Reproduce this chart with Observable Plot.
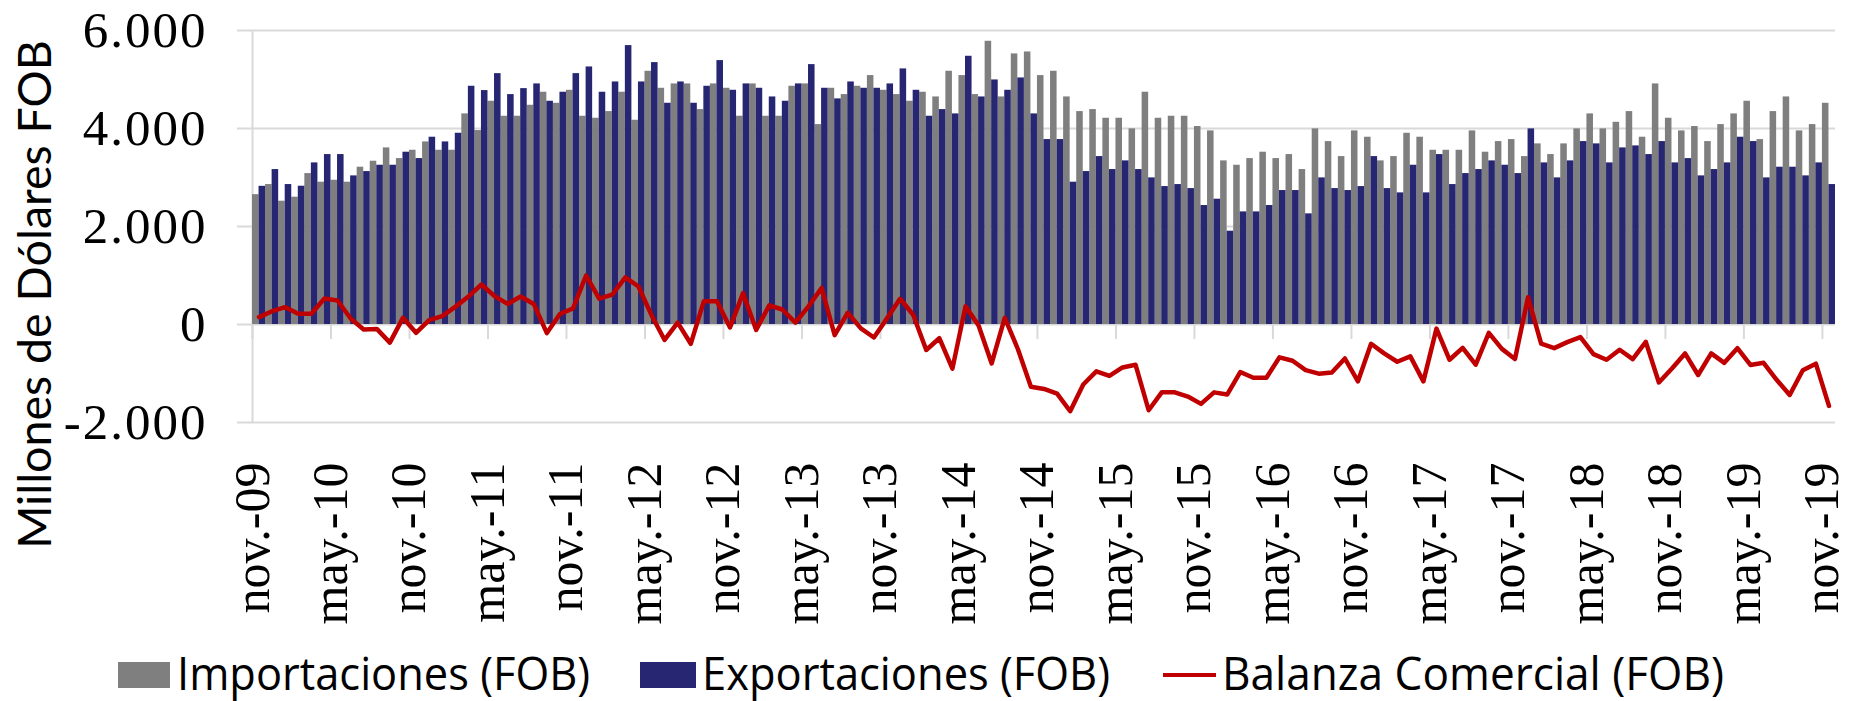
<!DOCTYPE html>
<html><head><meta charset="utf-8">
<script src="https://cdn.jsdelivr.net/npm/d3@7"></script>
<script src="https://cdn.jsdelivr.net/npm/@observablehq/plot@0.6"></script>
<style>
html,body{margin:0;padding:0;background:#fff;width:1851px;height:701px;overflow:hidden}
#chart{position:relative;width:1851px;height:701px}
#chart svg{display:block;overflow:visible}
#chart g[aria-label="y-axis tick label"] text{letter-spacing:2px}
</style></head><body><div id="chart"></div>
<script>
const tickLabels = ["nov.-09","may.-10","nov.-10","may.-11","nov.-11","may.-12","nov.-12","may.-13","nov.-13","may.-14","nov.-14","may.-15","nov.-15","may.-16","nov.-16","may.-17","nov.-17","may.-18","nov.-18","may.-19","nov.-19"];
const yTicks = [-2000, 0, 2000, 4000, 6000];

// Monthly values nov-09 .. nov-19 (millones USD FOB)
const importaciones = [
2650,2856,2516,2598,3080,2904,2944,2904,3210,3332,3604,3386,3556,3726,3556,3556,4298,3958,4556,4250,
4250,4474,4740,4515,4780,4250,4209,4345,4740,4168,5168,4821,4910,4910,4386,4910,4821,4250,4910,4250,
4250,4862,4910,4080,4821,4692,4862,5080,4780,4692,4556,4740,4644,5168,5080,4692,5780,4644,5522,5562,
5080,5168,4644,4345,4386,4209,4209,3992,4740,4209,4250,4250,4040,3951,3339,3250,3386,3516,3386,3468,
3162,3992,3733,3427,3951,3822,3339,3427,3903,3822,3556,3556,3556,3951,3516,3733,3774,3427,3686,3468,
3686,3992,4298,3992,4127,4345,3822,4910,4209,3951,4040,3733,4080,4298,4556,3774,4345,4644,3951,4080,
4515];
const exportaciones = [
2820,3162,2856,2822,3298,3468,3468,3033,3121,3250,3250,3516,3386,3822,3726,3903,4862,4774,5120,4692,
4814,4910,4556,4740,5120,5256,4740,4950,5692,4950,5345,4515,4950,4515,4862,5386,4780,4910,4821,4644,
4556,4910,5304,4821,4604,4950,4821,4821,4910,5216,4780,4250,4386,4298,5474,4644,4991,4780,5032,4298,
3774,3774,2904,3121,3427,3162,3339,3162,2992,2815,2856,2774,2428,2557,1904,2298,2298,2428,2734,2734,
2258,2992,2774,2734,2815,3427,2774,2686,3250,2686,3468,2856,3080,3162,3339,3250,3080,3992,3298,2992,
3339,3733,3686,3298,3604,3645,3468,3733,3298,3386,3033,3162,3298,3822,3733,2992,3210,3210,3033,3298,
2856];
const balanza = [
150,272,354,218,218,530,490,122,-100,-90,-370,136,-170,90,170,360,570,816,578,420,
570,420,-175,215,330,1000,528,610,960,775,190,-315,38,-394,476,476,-60,640,-110,390,
306,40,370,745,-218,240,-80,-265,125,525,200,-520,-280,-900,370,-20,-795,136,-500,-1270,
-1315,-1410,-1770,-1224,-955,-1050,-877,-823,-1750,-1385,-1385,-1470,-1620,-1385,-1430,-970,-1088,-1088,-670,-740,
-930,-1003,-980,-694,-1160,-394,-590,-760,-650,-1160,-85,-720,-476,-820,-172,-497,-704,555,-390,-483,
-360,-258,-605,-720,-516,-707,-354,-1183,-897,-590,-1030,-590,-782,-483,-826,-782,-1128,-1438,-935,-800,
-1662];

const series = [
  {name: "Importaciones (FOB)", color: "#7f7f7f", kind: "box"},
  {name: "Exportaciones (FOB)", color: "#262673", kind: "box"},
  {name: "Balanza Comercial (FOB)", color: "#c00000", kind: "line"}
];

const data = importaciones.map((m, i) => ({i, imp: m, exp: exportaciones[i], bal: balanza[i]}));
const tickIdx = tickLabels.map((_, j) => j * 6);
const fmt = v => v === 0 ? "0" : (v < 0 ? "-" : "") + d3.format(",")(Math.abs(v)).replace(/,/g, ".");

const plot = Plot.plot({
  width: 1851, height: 630,
  marginLeft: 252, marginRight: 16, marginTop: 30, marginBottom: 208,
  style: {fontFamily: "'Liberation Serif', 'Times New Roman', serif", fontSize: "50px", color: "#000", background: "transparent", overflow: "visible"},
  x: {type: "linear", domain: [0, importaciones.length], axis: null},
  y: {domain: [-2000, 6000], axis: null},
  marks: [
    Plot.ruleY(yTicks, {stroke: "#d9d9d9", strokeWidth: 2}),
    Plot.ruleX([0], {stroke: "#d9d9d9", strokeWidth: 2}),
    Plot.rect(data, {x1: "i", x2: d => d.i + 0.5, y1: 0, y2: "imp", fill: series[0].color}),
    Plot.rect(data, {x1: d => d.i + 0.5, x2: d => d.i + 1, y1: 0, y2: "exp", fill: series[1].color}),
    Plot.ruleX(tickIdx, {y1: 0, y2: -306, stroke: "#d9d9d9", strokeWidth: 2}),
    Plot.line(data, {x: d => d.i + 0.5, y: "bal", stroke: series[2].color, strokeWidth: 4.5}),
    Plot.axisY(yTicks, {tickSize: 15, tickPadding: 30, stroke: "#d9d9d9", strokeWidth: 2, fill: "#000", tickFormat: fmt, fontSize: 51, label: null}),
    Plot.axisX(tickIdx, {tickSize: 0, tickPadding: 40, tickRotate: -90, tickFormat: i => tickLabels[i / 6], fontSize: 50, label: null}),
    Plot.text(["Millones de Dólares FOB"], {frameAnchor: "left", textAnchor: "middle", rotate: -90, dx: -216, dy: 68, fontSize: 46.5, fontFamily: "Lato, 'Open Sans', sans-serif", fill: "#000"})
  ]
});
const chart = document.getElementById("chart");
chart.appendChild(plot);

// Legend below the SVG
const legendLayout = [
  {keyX: 118, keyW: 52, textX: 177, textW: 413},
  {keyX: 640, keyW: 56, textX: 702, textW: 408},
  {keyX: 1163, keyW: 53, textX: 1222, textW: 502}
];
const lg = d3.create("svg").attr("width", 1851).attr("height", 71)
  .attr("font-family", "'Liberation Sans Narrow', 'Open Sans', sans-serif").attr("font-size", 46);
series.forEach((s, j) => {
  const L = legendLayout[j];
  if (s.kind === "box") {
    lg.append("rect").attr("x", L.keyX).attr("y", 32).attr("width", L.keyW).attr("height", 26).attr("fill", s.color);
  } else {
    lg.append("line").attr("x1", L.keyX).attr("x2", L.keyX + L.keyW).attr("y1", 45).attr("y2", 45)
      .attr("stroke", s.color).attr("stroke-width", 4);
  }
  lg.append("text").attr("x", L.textX).attr("y", 60).attr("fill", "#000")
    .attr("textLength", L.textW).attr("lengthAdjust", "spacingAndGlyphs").text(s.name);
});
chart.appendChild(lg.node());
</script>
</body></html>
